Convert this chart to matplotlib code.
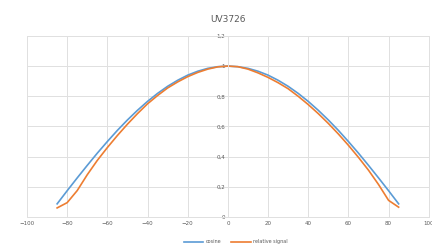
import matplotlib.pyplot as plt
from matplotlib.ticker import FuncFormatter

angle = [-85, -80, -75, -70, -65, -60, -55, -50, -45, -40, -35, -30, -25, -20, -15, -10, -5,
         0, 5, 10, 15, 20, 25, 30, 35, 40, 45, 50, 55, 60, 65, 70, 75, 80, 85]
cosine = [0.087, 0.174, 0.259, 0.342, 0.423, 0.5, 0.574, 0.643, 0.707, 0.766, 0.819, 0.866,
          0.906, 0.940, 0.966, 0.985, 0.996, 1.0, 0.996, 0.985, 0.966, 0.940, 0.906, 0.866,
          0.819, 0.766, 0.707, 0.643, 0.574, 0.5, 0.423, 0.342, 0.259, 0.174, 0.087]
rel_signal = [0.06, 0.095, 0.175, 0.28, 0.375, 0.46, 0.54, 0.615, 0.685, 0.75, 0.805, 0.855,
              0.895, 0.93, 0.958, 0.98, 0.995, 1.0, 0.996, 0.98, 0.955, 0.925, 0.89, 0.85,
              0.8, 0.745, 0.685, 0.62, 0.55, 0.475, 0.395, 0.31, 0.215, 0.11, 0.065]

grey = '#e0e0e0'
txt = '#595959'

fig = plt.figure(figsize=(4.32, 2.46), dpi=100)
ax = fig.add_axes([0.0625, 0.118, 0.93, 0.736])

ax.plot(angle, cosine, color='#5B9BD5', lw=1.2, label='cosine')
ax.plot(angle, rel_signal, color='#ED7D31', lw=1.2, label='relative signal')

ax.set_xlim(-100, 100)
ax.set_ylim(0, 1.2)
ax.set_xticks(range(-100, 101, 20))
ax.set_yticks([0, 0.2, 0.4, 0.6, 0.8, 1.0, 1.2])
ax.yaxis.set_major_formatter(FuncFormatter(lambda v, p: ('%g' % round(v, 1)).replace('.', ',')))
ax.grid(True, color=grey, lw=0.7)
ax.set_axisbelow(True)

for s in ['top', 'right', 'bottom']:
    ax.spines[s].set_color(grey)
    ax.spines[s].set_linewidth(0.7)
ax.spines['left'].set_position(('data', 0))
ax.spines['left'].set_color(grey)
ax.spines['left'].set_linewidth(0.7)

ax.tick_params(length=0, labelsize=4, colors=txt, pad=3)
ax.tick_params(axis='y', pad=2)

ax.set_title('UV3726', fontsize=6.5, color=txt, pad=10)
ax.legend(loc='upper center', bbox_to_anchor=(0.52, -0.1), ncol=2, frameon=False,
          fontsize=3.5, labelcolor=txt, handlelength=4, columnspacing=2, handletextpad=0.5)

fig.savefig('out.png', dpi=100, facecolor='white')
